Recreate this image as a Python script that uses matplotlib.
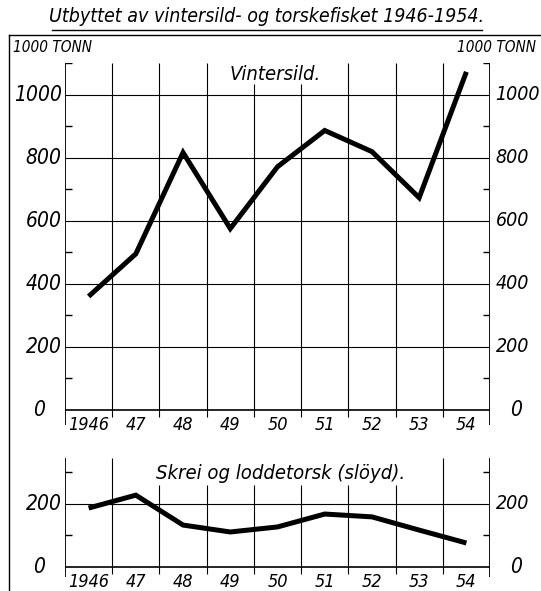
import matplotlib.pyplot as plt
import numpy as np

# values in 1000 tonn
years = ['1946', '47', '48', '49', '50', '51', '52', '53', '54']
vintersild = [360, 495, 816, 575, 771, 886, 819, 673, 1072]
skrei = [187, 228, 133, 111, 127, 168, 159, 117, 76]

top_ticks = [0, 200, 400, 600, 800, 1000]
bot_ticks = [0, 200]

W, H = 541, 591
fig = plt.figure(figsize=(W / 100, H / 100), dpi=100)
plt.rcParams['font.family'] = 'DejaVu Sans'
plt.rcParams['font.stretch'] = 'condensed'


def px_axes(x0, y0, x1, y1):
    # place axes from pixel coords (top-left origin)
    return fig.add_axes([x0 / W, 1 - y1 / H, (x1 - x0) / W, (y1 - y0) / H])


def setup(ax, ymin, ymax, ticks, minor, grid_top, low_lines):
    n = len(years)
    x = np.arange(n) + 0.5
    ax.set_xlim(0, n)
    ax.set_ylim(ymin, ymax)
    ax.axis('off')
    # spines drawn by hand so they can run below zero
    ax.vlines([0, n], ymin, ymax, color='black', lw=1.3)
    ax.hlines(0, 0, n, color='black', lw=1.2)
    # cell boundaries
    for i in range(1, n):
        top = grid_top if i in low_lines else ymax
        ax.vlines(i, -22, top, color='black', lw=0.8)
    # horizontal grid
    for t in ticks[1:]:
        ax.hlines(t, 0, n, color='black', lw=0.8)
    # minor ticks inward
    for m in minor:
        ax.hlines(m, 0, 0.15, color='black', lw=1.0)
        ax.hlines(m, n - 0.15, n, color='black', lw=1.0)
    tr = ax.get_yaxis_transform()
    for t in ticks:
        if t == 0:
            ax.text(-0.061, t, '0', transform=tr, ha='center', va='center',
                    fontsize=15, style='italic')
            ax.text(1.061, t, '0', transform=tr, ha='center', va='center',
                    fontsize=15, style='italic')
        else:
            ax.text(-0.008, t, str(t), transform=tr, ha='right', va='center',
                    fontsize=15, style='italic')
            ax.text(1.013, t, str(t), transform=tr, ha='left', va='center',
                    fontsize=14, style='italic')
    for xi, lab in zip(x, years):
        ax.annotate(lab, (xi, 0), xytext=(0, -15), textcoords='offset pixels',
                    ha='center', va='center', fontsize=13, style='italic')
    return x


ax1 = px_axes(65, 63, 490, 425.1)
x = setup(ax1, -48, 1100, top_ticks, [100, 300, 500, 700, 900, 1100], 1032, [4, 5])
ax1.plot(x, vintersild, color='black', lw=3.6, solid_capstyle='butt',
         solid_joinstyle='miter')
ax1.text(4.45, 1062, 'Vintersild.', ha='center', va='center', fontsize=14.5,
         style='italic')

ax2 = px_axes(65, 458, 490, 577)
x = setup(ax2, -32, 346, bot_ticks, [100, 300], 260, [2, 3, 4, 5, 6, 7])
ax2.plot(x, skrei, color='black', lw=3.6, solid_capstyle='butt',
         solid_joinstyle='miter')
ax2.text(4.57, 298, 'Skrei og loddetorsk (slöyd).', ha='center', va='center',
         fontsize=14.5, style='italic')

# title, underline and page frame
fig.text(267 / W, 1 - 17 / H, 'Utbyttet av vintersild- og torskefisket 1946-1954.',
         ha='center', va='center', fontsize=14, style='italic')
fig.add_artist(plt.Line2D([52 / W, 482 / W], [1 - 30 / H, 1 - 30 / H],
                          color='black', lw=1.0))
fig.add_artist(plt.Line2D([9 / W, 1.0], [1 - 35 / H, 1 - 35 / H],
                          color='black', lw=1.0))
fig.add_artist(plt.Line2D([9 / W, 9 / W], [0.0, 1 - 35 / H],
                          color='black', lw=1.0))
fig.text(13 / W, 1 - 47 / H, '1000 TONN', ha='left', va='center',
         fontsize=11, style='italic')
fig.text(536 / W, 1 - 47 / H, '1000 TONN', ha='right', va='center',
         fontsize=11, style='italic')

fig.savefig('out.png', dpi=100)
